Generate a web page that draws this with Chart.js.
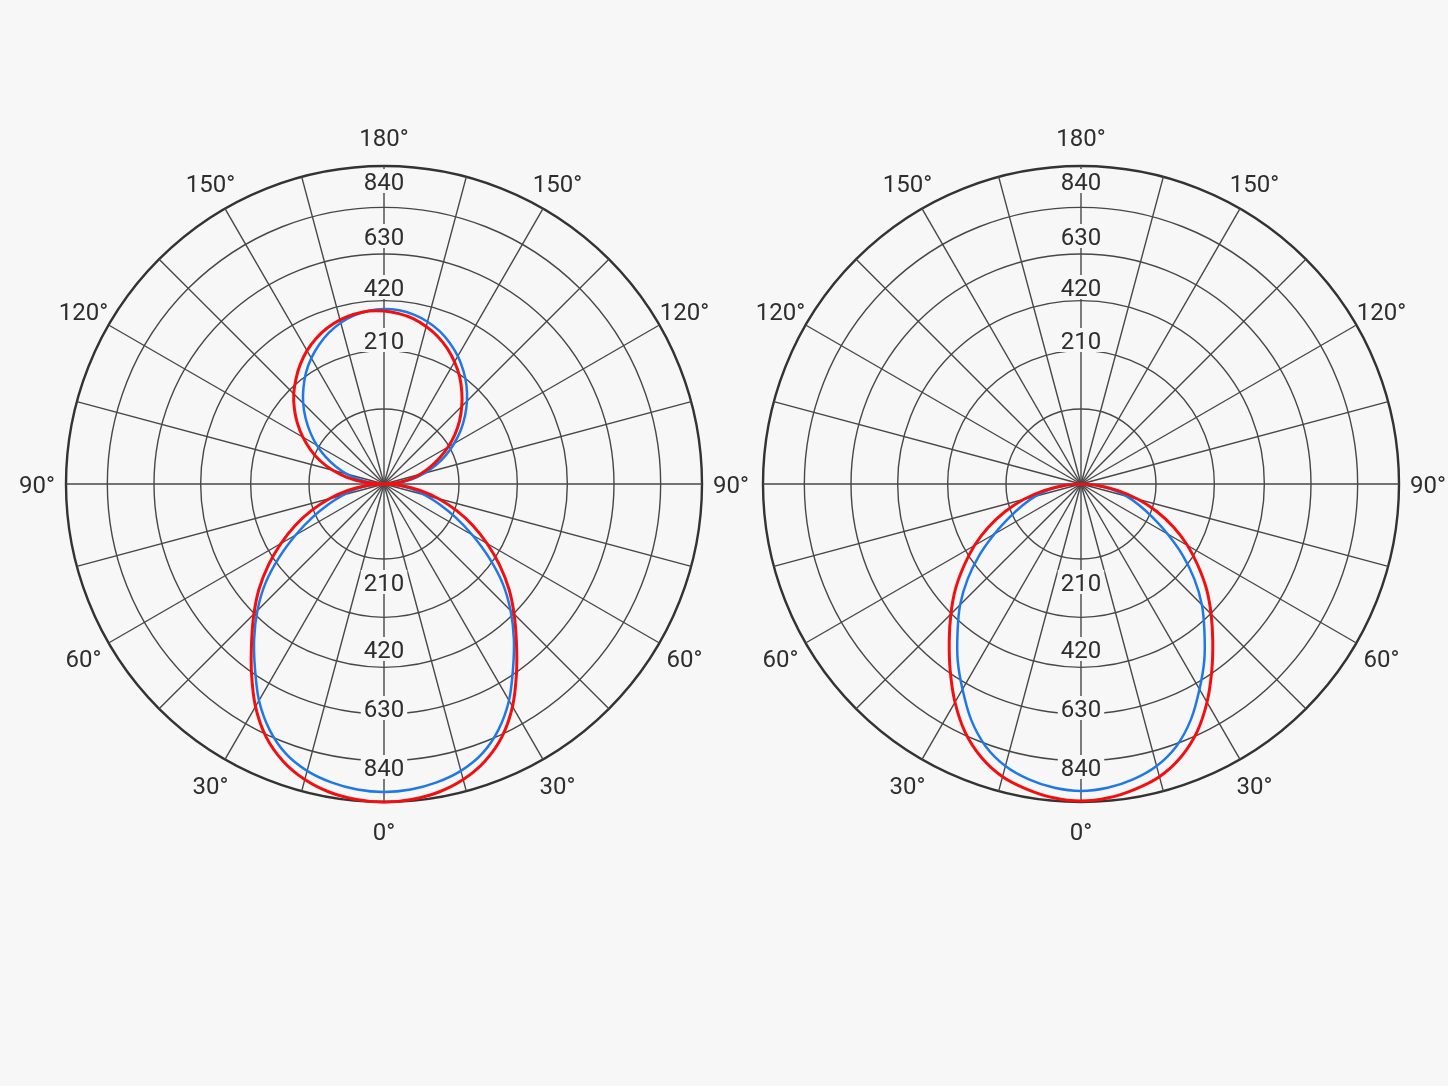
<!DOCTYPE html>
<html>
<head>
<meta charset="utf-8">
<title>Polar intensity curves</title>
<script src="https://cdn.jsdelivr.net/npm/chart.js@4.4.1/dist/chart.umd.min.js"></script>
<style>
  html, body { margin: 0; padding: 0; background: #f7f7f7; }
  body { width: 1448px; height: 1086px; position: relative; overflow: hidden; }
  .box { position: absolute; top: 94px; width: 780px; height: 780px; }
  #boxLeft { left: -6px; }
  #boxRight { left: 691px; }
</style>
</head>
<body>
<div class="box" id="boxLeft"><canvas id="polarLeft"></canvas></div>
<div class="box" id="boxRight"><canvas id="polarRight"></canvas></div>
<script>
// angle labels every 30 deg, clockwise from the top
var angleTicks = ['180°', '150°', '120°', '90°', '60°', '30°', '0°', '30°', '60°', '90°', '120°', '150°'];
// radial rings (value where each circle sits) and the texts on the vertical axis
var ringValues = [0, 225, 400, 550, 690, 830, 954];
var tickText = ['210', '420', '630', '840'];

// intensity every 5 deg, starting at the top (180°) and going clockwise
var leftRed = [
  519, 513, 504, 489, 471, 449, 423, 395, 363, 330, 296, 260, 222, 183, 146, 111, 75, 36,
  0, 51, 108, 168, 231, 294, 357, 423, 489, 552, 618, 693, 771, 837, 885, 918, 939, 950,
  954, 950, 939, 918, 885, 837, 771, 693, 618, 552, 489, 423, 357, 294, 231, 168, 108, 51,
  0, 57, 111, 159, 204, 243, 281, 317, 351, 383, 411, 438, 462, 482, 498, 510, 517, 521
];
var leftBlue = [
  525, 523, 516, 504, 488, 467, 443, 415, 385, 352, 317, 281, 243, 205, 166, 126, 86, 46,
  0, 42, 84, 126, 177, 237, 306, 384, 465, 537, 606, 675, 750, 813, 861, 891, 909, 920,
  924, 920, 909, 891, 861, 813, 750, 675, 606, 537, 465, 384, 306, 237, 177, 126, 84, 42,
  0, 34, 74, 115, 154, 194, 233, 270, 307, 343, 376, 408, 436, 461, 483, 501, 514, 522
];
var rightRed = [
  0, 0, 0, 0, 0, 0, 0, 0, 0, 0, 0, 0, 0, 0, 0, 0, 0, 0,
  0, 51, 111, 177, 243, 306, 369, 429, 492, 552, 615, 684, 756, 822, 873, 909, 930, 945,
  951, 945, 930, 909, 873, 822, 756, 684, 615, 552, 492, 429, 369, 306, 243, 177, 111, 51,
  0, 0, 0, 0, 0, 0, 0, 0, 0, 0, 0, 0, 0, 0, 0, 0, 0, 0
];
var rightBlue = [
  0, 0, 0, 0, 0, 0, 0, 0, 0, 0, 0, 0, 0, 0, 0, 0, 0, 0,
  0, 48, 96, 141, 186, 237, 300, 372, 444, 513, 576, 645, 711, 780, 837, 876, 900, 915,
  921, 915, 900, 876, 837, 780, 711, 645, 576, 513, 444, 372, 300, 237, 186, 141, 96, 48,
  0, 0, 0, 0, 0, 0, 0, 0, 0, 0, 0, 0, 0, 0, 0, 0, 0, 0
];

var pageBg = '#f7f7f7';
var inkColor = '#2e2e2e';
var gridColor = '#474747';
var textFont = '24px Roboto';

// 72 spokes, only every 6th one gets a text
var stepLabels = leftRed.map(function (v, i) {
  return i % 6 === 0 ? angleTicks[i / 6] : '';
});

// where the axis texts sit on the scale, above and below the centre
var labelSpots = {
  up: [432, 591, 744, 909],
  down: [294, 495, 672, 849]
};

// axis numbers on both halves of the vertical axis and the angle texts round the rim
var polarText = {
  id: 'polarText',
  beforeDatasetsDraw: function (chart, args, opts) {
    var s = chart.scales.r;
    var ctx = chart.ctx;
    ctx.save();
    ctx.font = textFont;
    ctx.textAlign = 'center';
    ctx.textBaseline = 'middle';
    tickText.forEach(function (txt, i) {
      var ys = [
        s.yCenter - s.getDistanceFromCenterForValue(labelSpots.up[i]),
        s.yCenter + s.getDistanceFromCenterForValue(labelSpots.down[i])
      ];
      ys.forEach(function (y) {
        var w = ctx.measureText(txt).width + 6;
        ctx.fillStyle = pageBg;
        ctx.fillRect(s.xCenter - w / 2, y - 12, w, 24);
        ctx.fillStyle = inkColor;
        ctx.fillText(txt, s.xCenter, y + 3);
      });
    });
    ctx.fillStyle = inkColor;
    s._pointLabels.forEach(function (txt, i) {
      if (!txt || opts.skip.indexOf(i) >= 0) return;
      var p = s.getPointPosition(i, s.drawingArea + opts.gap);
      ctx.fillText(txt, p.x, p.y + 3);
    });
    ctx.restore();
  }
};

function polarChart(id, red, blue, skip) {
  return new Chart(document.getElementById(id), {
    type: 'radar',
    data: {
      labels: stepLabels,
      datasets: [
        { data: red, borderColor: '#f20f0f', borderWidth: 3, fill: false },
        { data: blue, borderColor: '#1f78e6', borderWidth: 2.5, fill: false }
      ]
    },
    options: {
      responsive: true,
      maintainAspectRatio: false,
      animation: false,
      events: [],
      layout: { padding: 72 },
      elements: {
        point: { radius: 0, hoverRadius: 0 },
        line: { tension: 0.3, borderJoinStyle: 'round' }
      },
      plugins: {
        legend: { display: false },
        tooltip: { enabled: false },
        polarText: { gap: 29, skip: skip }
      },
      scales: {
        r: {
          min: 0,
          max: 954,
          startAngle: 0,
          afterBuildTicks: function (scale) {
            scale.ticks = ringValues.map(function (v) { return { value: v }; });
          },
          ticks: { display: false },
          grid: {
            circular: true,
            color: function (c) { return c.index === ringValues.length - 1 ? '#333333' : gridColor; },
            lineWidth: function (c) { return c.index === ringValues.length - 1 ? 2.4 : 1.4; }
          },
          angleLines: {
            color: gridColor,
            lineWidth: function (c) { return c.index % 3 === 0 ? 1.4 : 0; }
          },
          pointLabels: { display: false }
        }
      }
    },
    plugins: [polarText]
  });
}

polarChart('polarLeft', leftRed, leftBlue, []);
// the left 90° of the right chart shares its place with the left chart's right 90°
polarChart('polarRight', rightRed, rightBlue, [54]);
</script>
</body>
</html>
